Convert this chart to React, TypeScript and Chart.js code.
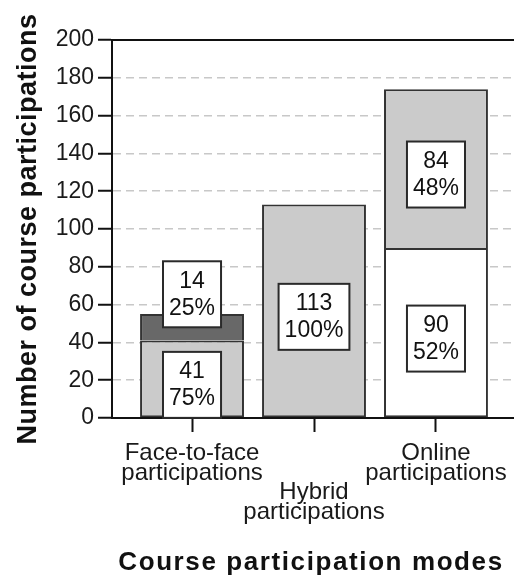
import React, { useEffect, useRef } from 'react';
import { Chart, registerables } from 'chart.js';

Chart.register(...registerables);

const categories = ['Face-to-face participations', 'Hybrid participations', 'Online participations'];
const xTickLines = [
  ['Face-to-face', 'participations'],
  ['', '', 'Hybrid', 'participations'],
  ['Online', 'participations'],
];
const lowerCounts: (number | null)[] = [41, 113, 90];
const upperCounts: (number | null)[] = [14, null, 84];
const lowerColors = ['#cbcbcb', '#cbcbcb', '#ffffff'];
const upperColors = ['#686868', '#686868', '#cbcbcb'];
const yMin = 0;
const yMax = 200;
const yStep = 20;
const xTitle = 'Course participation modes';
const yTitle = 'Number of course participations';

const FONT = '"Liberation Sans", Arial, Helvetica, sans-serif';

const totals = categories.map((_, i) => (lowerCounts[i] || 0) + (upperCounts[i] || 0));

const decorPlugin = {
  id: 'decor',
  afterDatasetsDraw(chart: any) {
    const { ctx, chartArea: a } = chart;
    ctx.save();
    ctx.strokeStyle = '#111';
    ctx.lineWidth = 2;
    ctx.beginPath();
    ctx.moveTo(a.left, a.top);
    ctx.lineTo(a.right, a.top);
    ctx.lineTo(a.right, a.bottom);
    ctx.moveTo(a.left - 1, a.bottom);
    ctx.lineTo(a.right, a.bottom);
    ctx.stroke();

    ctx.font = `23px ${FONT}`;
    ctx.textAlign = 'center';
    ctx.textBaseline = 'middle';
    const series = [lowerCounts, upperCounts];
    chart.data.datasets.forEach((_: any, di: number) => {
      const meta = chart.getDatasetMeta(di);
      const vals = series[di];
      meta.data.forEach((el: any, i: number) => {
        const v = vals[i];
        if (v == null) return;
        const { x, y, base } = el.getProps(['x', 'y', 'base'], true);
        const top = Math.min(y, base);
        const bottom = Math.max(y, base);
        const h = bottom - top;
        const mid = (top + bottom) / 2;
        const pct = Math.round((v / totals[i]) * 100) + '%';
        const line1 = String(v);
        const w = Math.max(ctx.measureText(line1).width, ctx.measureText(pct).width) + 12;
        const boxH = 66;
        const cy = h >= boxH ? mid + 6 : mid - boxH / 2;
        ctx.fillStyle = '#ffffff';
        ctx.fillRect(x - w / 2, cy - boxH / 2, w, boxH);
        ctx.strokeStyle = '#2a2a2a';
        ctx.lineWidth = 2;
        ctx.strokeRect(x - w / 2, cy - boxH / 2, w, boxH);
        ctx.fillStyle = '#111';
        ctx.fillText(line1, x, cy - 13);
        ctx.fillText(pct, x, cy + 14);
      });
    });
    ctx.restore();
  },
  afterDraw(chart: any) {
    const { ctx } = chart;
    ctx.save();
    ctx.fillStyle = '#111';
    ctx.font = `bold 26px ${FONT}`;
    (ctx as any).letterSpacing = '1.6px';
    ctx.textAlign = 'center';
    ctx.textBaseline = 'alphabetic';
    ctx.fillText(xTitle, 311, 570);
    ctx.font = `bold 27px ${FONT}`;
    (ctx as any).letterSpacing = '0.5px';
    ctx.translate(36, 229);
    ctx.rotate(-Math.PI / 2);
    ctx.fillText(yTitle, 0, 0);
    ctx.restore();
    (ctx as any).letterSpacing = '0px';
  },
};

export default function App() {
  const ref = useRef<HTMLCanvasElement | null>(null);

  useEffect(() => {
    if (!ref.current) return;
    const chart = new Chart(ref.current, {
      type: 'bar',
      data: {
        datasets: [
          {
            label: 'Lower segment',
            data: lowerCounts.map((v, i) => ({ x: i, y: v })) as any,
            backgroundColor: lowerColors,
            borderColor: '#333333',
            borderWidth: 2,
            borderSkipped: false,
            categoryPercentage: 1,
            barPercentage: 0.852,
          },
          {
            label: 'Upper segment',
            data: upperCounts.map((v, i) => ({ x: i, y: v })) as any,
            backgroundColor: upperColors,
            borderColor: '#333333',
            borderWidth: 2,
            borderSkipped: 'start',
            categoryPercentage: 1,
            barPercentage: 0.852,
          },
        ],
      },
      options: {
        responsive: false,
        animation: false,
        devicePixelRatio: 1,
        layout: { padding: { left: 0, top: 40, right: 6, bottom: 0 } },
        plugins: {
          legend: { display: false },
          tooltip: { enabled: false },
          title: { display: false },
        },
        scales: {
          x: {
            type: 'linear',
            stacked: true,
            offset: false,
            min: -0.656,
            max: 2.656,
            afterBuildTicks: (axis: any) => {
              axis.ticks = categories.map((_, i) => ({ value: i }));
            },
            afterFit: (scale: any) => {
              scale.height = 160;
            },
            ticks: {
              autoSkip: false,
              maxRotation: 0,
              minRotation: 0,
              padding: 11,
              color: '#1a1a1a',
              font: { family: FONT, size: 24, lineHeight: 0.83 },
              callback: (value: any) => xTickLines[Math.round(Number(value))] ?? '',
            },
            grid: {
              offset: false,
              drawOnChartArea: false,
              drawTicks: true,
              tickLength: 14,
              tickColor: '#111',
              tickWidth: 2,
            },
            border: { display: true, color: '#111', width: 2 },
          },
          y: {
            stacked: true,
            min: yMin,
            max: yMax,
            afterFit: (scale: any) => {
              scale.width = 112;
            },
            ticks: {
              stepSize: yStep,
              padding: 4,
              color: '#1a1a1a',
              font: { family: FONT, size: 23 },
            },
            grid: {
              color: (c: any) =>
                c.tick && (c.tick.value === yMin || c.tick.value === yMax) ? 'rgba(0,0,0,0)' : '#c8c8c8',
              lineWidth: 1.5,
              drawTicks: true,
              tickLength: 14,
              tickColor: '#111',
              tickWidth: 2,
              tickBorderDash: [],
            },
            border: { display: true, color: '#111', width: 2, dash: [8, 5] },
          },
        },
      },
      plugins: [decorPlugin],
    });
    return () => chart.destroy();
  }, []);

  return (
    <div
      style={{
        position: 'absolute',
        left: 0,
        top: 0,
        width: 514,
        height: 578,
        overflow: 'hidden',
        background: '#ffffff',
      }}
    >
      <canvas ref={ref} width={522} height={578} style={{ width: 522, height: 578, display: 'block' }} />
    </div>
  );
}
